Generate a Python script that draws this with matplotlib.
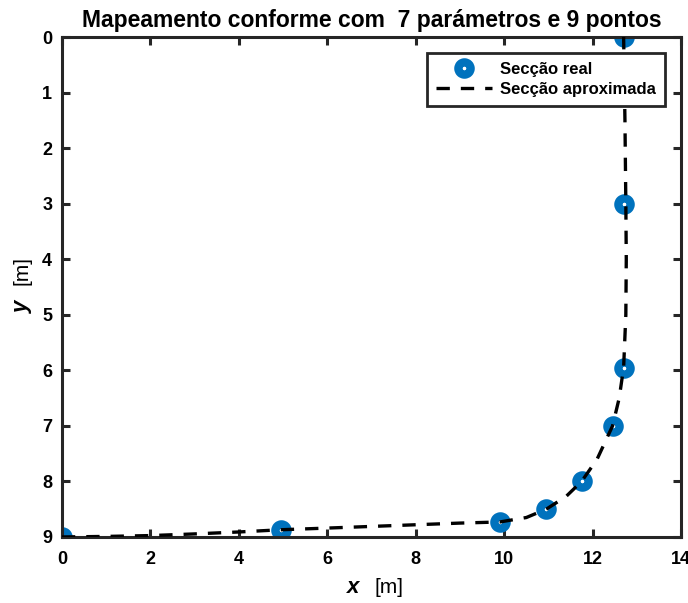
import numpy as np
import matplotlib
matplotlib.use("Agg")
import matplotlib.pyplot as plt

plt.rcParams['font.family'] = ['Liberation Sans', 'DejaVu Sans']

# real section points (x, y) in metres
real_x = [0.0, 4.95, 9.9, 10.95, 11.75, 12.45, 12.7, 12.7, 12.7]
real_y = [9.0, 8.87, 8.73, 8.5, 8.0, 7.0, 5.95, 3.0, 0.0]

# approximated section from the conformal map
approx_x = [0, 1, 2, 3, 4, 4.95, 6, 7, 8, 9, 9.9, 10.5, 10.95, 11.4, 11.75,
            12.1, 12.45, 12.6, 12.7, 12.75, 12.76, 12.75, 12.73, 12.7]
approx_y = [9.0, 8.99, 8.975, 8.945, 8.91, 8.87, 8.84, 8.81, 8.78, 8.75, 8.73,
            8.65, 8.5, 8.27, 8.0, 7.6, 7.0, 6.5, 5.95, 5.0, 4.0, 3.0, 1.5, 0.0]

blue = '#0072BD'
spine_col = '#262626'

fig = plt.figure(figsize=(6.88, 6.03), dpi=100)
ax = fig.add_axes([0.090, 0.1095, 0.900, 0.8291])

ax.plot(real_x, real_y, linestyle='none', marker='o', markersize=8.8,
        markerfacecolor='white', markeredgecolor=blue, markeredgewidth=6.0,
        label='Secção real', zorder=2)
ax.plot(approx_x, approx_y, color='black', linewidth=2.4, dashes=(4.0, 3.3),
        label='Secção aproximada', zorder=3)

ax.set_xlim(0, 14)
ax.set_ylim(9, 0)
ax.set_xticks(range(0, 15, 2))
ax.set_yticks(range(0, 10))

for s in ax.spines.values():
    s.set_linewidth(2.2)
    s.set_color(spine_col)
ax.tick_params(direction='in', length=6, width=2.2, color=spine_col,
               top=True, right=True, labelsize=13)
ax.tick_params(axis='x', pad=10)
ax.tick_params(axis='y', pad=7)
for lab in ax.get_xticklabels() + ax.get_yticklabels():
    lab.set_fontweight('bold')

ax.set_title('Mapeamento conforme com  7 parámetros e 9 pontos',
             fontsize=16.5, fontweight='bold', pad=7)

# axis labels: bold italic variable, plain unit
ax.text(0.480, -0.102, 'x', transform=ax.transAxes, fontsize=16,
        fontweight='bold', fontstyle='italic', ha='right', va='center')
ax.text(0.528, -0.102, '[m]', transform=ax.transAxes, fontsize=15,
        ha='center', va='center')
ax.text(-0.064, 0.46, 'y', transform=ax.transAxes, fontsize=16,
        fontweight='bold', fontstyle='italic', ha='center', va='center',
        rotation=90)
ax.text(-0.064, 0.532, '[m]', transform=ax.transAxes, fontsize=15,
        ha='center', va='center', rotation=90)

leg = ax.legend(loc='upper right', bbox_to_anchor=(0.974, 0.968),
                borderaxespad=0, prop={'weight': 'bold', 'size': 12},
                handlelength=3.4, fancybox=False, framealpha=1,
                borderpad=0.55, labelspacing=0.3, handletextpad=0.45)
leg.get_frame().set_edgecolor(spine_col)
leg.get_frame().set_linewidth(2)

fig.savefig('out.png', dpi=100)
